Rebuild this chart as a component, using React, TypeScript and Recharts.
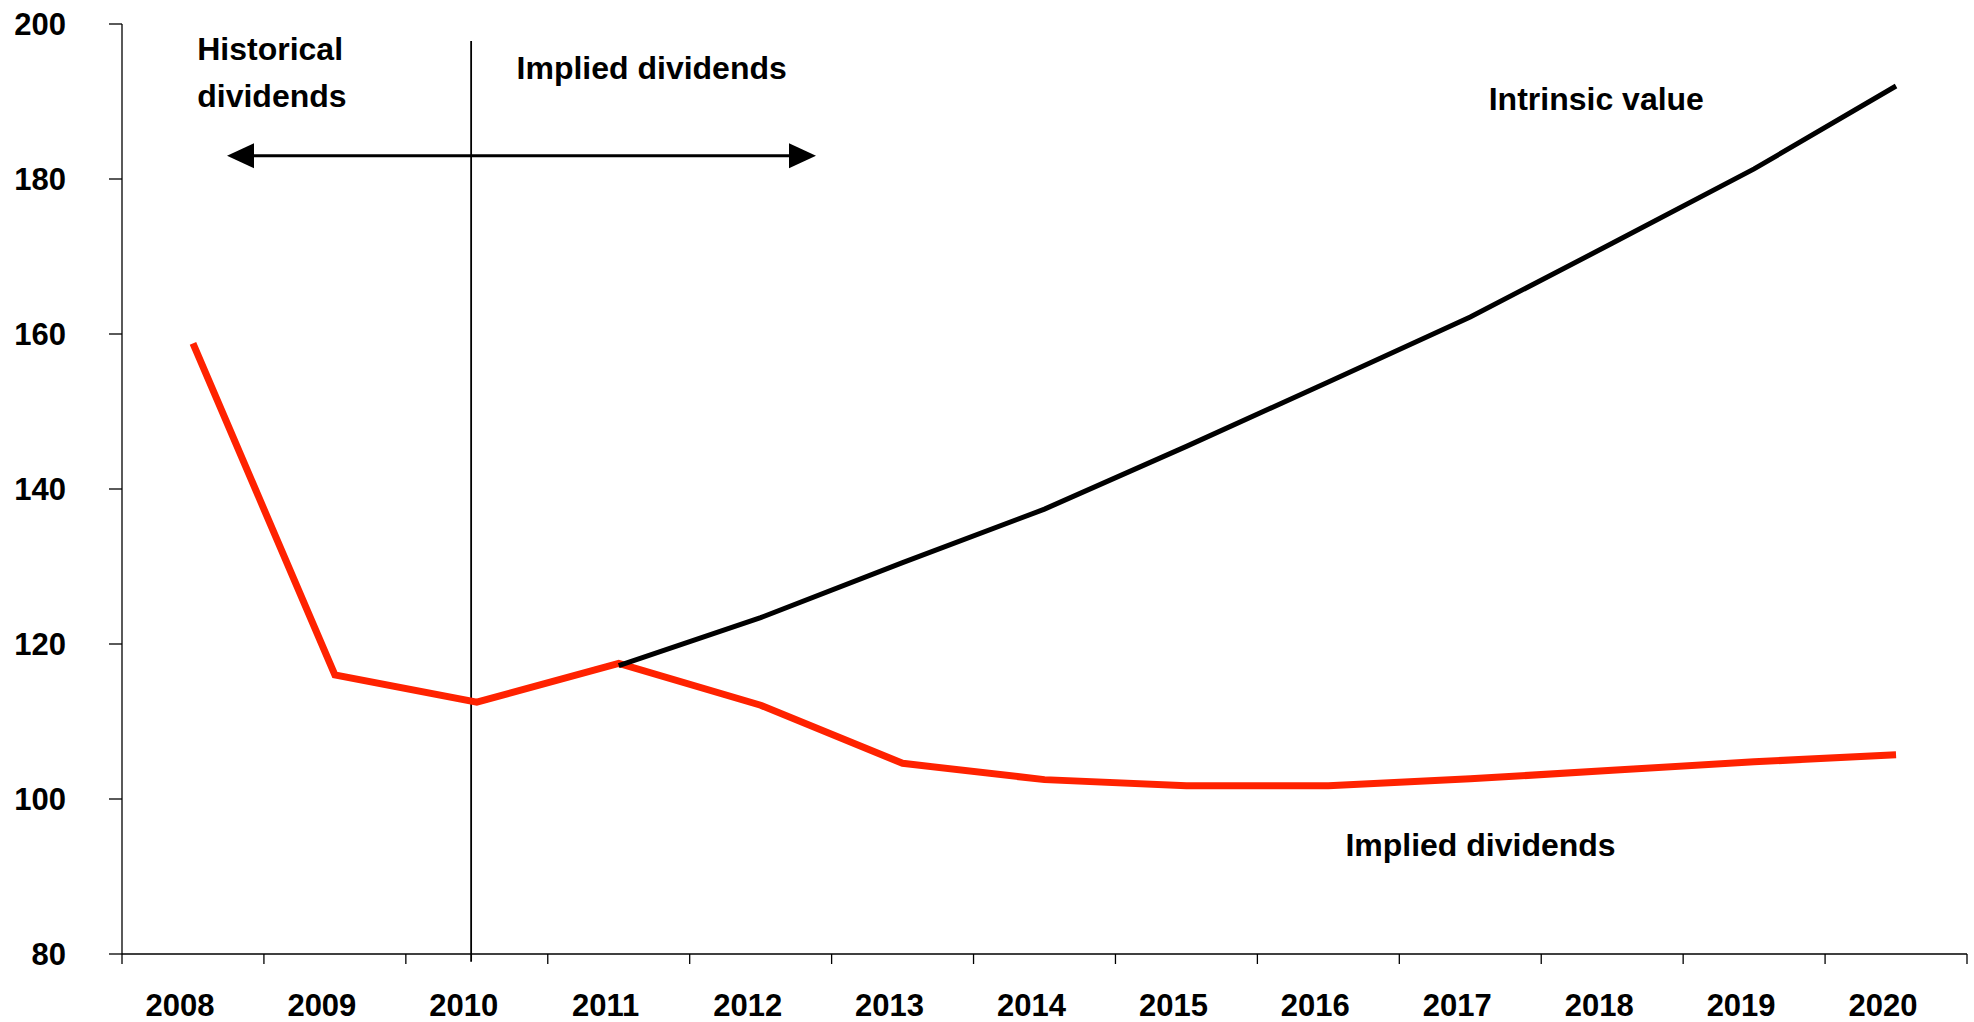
import { LineChart, Line, XAxis, YAxis, ReferenceLine, ReferenceDot } from 'recharts';

const years = [2008, 2009, 2010, 2011, 2012, 2013, 2014, 2015, 2016, 2017, 2018, 2019, 2020];
const impliedDividends = [158.8, 116.0, 112.5, 117.5, 112.1, 104.6, 102.5, 101.7, 101.7, 102.6, 103.7, 104.8, 105.7];
const intrinsicValue = [null, null, null, 117.2, 123.4, 130.5, 137.4, 145.5, 153.8, 162.2, 171.7, 181.3, 192.0];
const yTicks = [80, 100, 120, 140, 160, 180, 200];

const data = years.map((year, i) => ({
  year,
  implied: impliedDividends[i],
  intrinsic: intrinsicValue[i],
}));

const W = 1974;
const H = 1022;
const MARGIN = { top: 24, right: 7, bottom: 0, left: 0 };
const Y_AXIS_W = 122;
const X_AXIS_H = 68;
const FONT = '"Liberation Sans", Arial, Helvetica, sans-serif';
const RED = '#ff2200';
// half of one year's slot, used to put the x tick marks between the years
const halfBand = (W - MARGIN.left - MARGIN.right - Y_AXIS_W) / years.length / 2;

function YearTick(props: any) {
  const { x, y, payload, index } = props;
  const last = index === years.length - 1;
  return (
    <g>
      <line x1={x - halfBand} y1={y} x2={x - halfBand} y2={y + 10} stroke="#000" strokeWidth={1.3} />
      {last && <line x1={x + halfBand} y1={y} x2={x + halfBand} y2={y + 10} stroke="#000" strokeWidth={1.3} />}
      <text x={x - 13} y={y + 62} textAnchor="middle" fontFamily={FONT} fontSize={31} fontWeight={700} fill="#000">
        {payload.value}
      </text>
    </g>
  );
}

function ArrowShape(props: any) {
  const { x1, y1, x2 } = props;
  const left = Math.min(x1, x2);
  const right = Math.max(x1, x2);
  const len = 27;
  const half = 12.5;
  return (
    <g>
      <line x1={left + len - 2} y1={y1} x2={right - len + 2} y2={y1} stroke="#000" strokeWidth={3} />
      <polygon points={`${left},${y1} ${left + len},${y1 - half} ${left + len},${y1 + half}`} fill="#000" />
      <polygon points={`${right},${y1} ${right - len},${y1 - half} ${right - len},${y1 + half}`} fill="#000" />
    </g>
  );
}

const textShape = (lines: string[]) => (props: any) => (
  <text x={props.cx} y={props.cy} fontFamily={FONT} fontSize={32} fontWeight={700} fill="#000">
    {lines.map((l, i) => (
      <tspan key={i} x={props.cx} dy={i === 0 ? 0 : 47}>
        {l}
      </tspan>
    ))}
  </text>
);

export default function App() {
  return (
    <div style={{ position: 'absolute', left: 0, top: 0, width: W, height: H, background: '#fff' }}>
      <LineChart width={W} height={H} data={data} margin={MARGIN}>
        <XAxis
          dataKey="year"
          type="number"
          domain={[2007.5, 2020.5]}
          ticks={years}
          interval={0}
          height={X_AXIS_H}
          tickSize={0}
          tickMargin={0}
          tickLine={false}
          axisLine={{ stroke: '#000', strokeWidth: 1.3 }}
          tick={<YearTick />}
        />
        <YAxis
          type="number"
          domain={[80, 200]}
          ticks={yTicks}
          interval={0}
          width={Y_AXIS_W}
          tickSize={13}
          tickMargin={43}
          axisLine={{ stroke: '#000', strokeWidth: 1.3 }}
          tickLine={{ stroke: '#000', strokeWidth: 1.3 }}
          tick={{ fill: '#000', fontSize: 31, fontWeight: 700, fontFamily: FONT }}
        />
        <ReferenceLine
          segment={[{ x: 2009.96, y: 197.8 }, { x: 2009.96, y: 79 }]}
          ifOverflow="visible"
          stroke="#000"
          strokeWidth={1.8}
        />
        <ReferenceLine
          segment={[{ x: 2008.24, y: 183 }, { x: 2012.39, y: 183 }]}
          ifOverflow="visible"
          shape={ArrowShape}
        />
        <Line
          dataKey="implied"
          type="linear"
          stroke={RED}
          strokeWidth={7}
          strokeLinejoin="miter"
          dot={false}
          activeDot={false}
          isAnimationActive={false}
        />
        <Line
          dataKey="intrinsic"
          type="linear"
          stroke="#000"
          strokeWidth={5}
          strokeLinejoin="miter"
          dot={false}
          activeDot={false}
          isAnimationActive={false}
        />
        <ReferenceDot x={2008.03} y={195.35} r={0} ifOverflow="visible" shape={textShape(['Historical', 'dividends'])} />
        <ReferenceDot x={2010.28} y={192.86} r={0} ifOverflow="visible" shape={textShape(['Implied dividends'])} />
        <ReferenceDot x={2017.13} y={188.9} r={0} ifOverflow="visible" shape={textShape(['Intrinsic value'])} />
        <ReferenceDot x={2016.12} y={92.7} r={0} ifOverflow="visible" shape={textShape(['Implied dividends'])} />
      </LineChart>
    </div>
  );
}
